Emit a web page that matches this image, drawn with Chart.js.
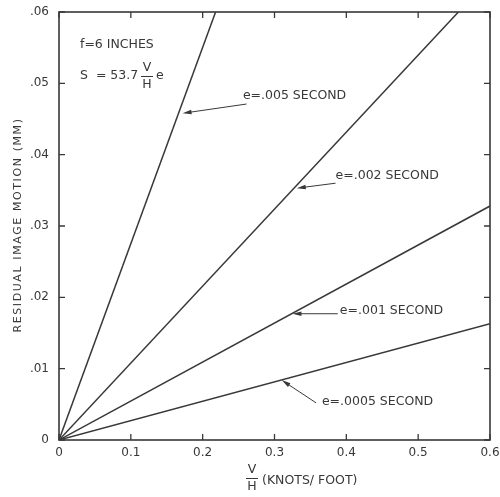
<!DOCTYPE html>
<html>
<head>
    <title>Residual Image Motion</title>
    <script src="https://cdn.jsdelivr.net/npm/chart.js"></script>
    <style>
        body {
            margin: 0;
            padding: 0;
            background: #fff;
        }
        #chart {
            display: block;
        }
    </style>
</head>
<body>
    <canvas id="chart" width="500" height="497"></canvas>

    <script>
        // Data: each line runs from the origin to its end point
        const seriesNames = ['e=.005 SECOND', 'e=.002 SECOND', 'e=.001 SECOND', 'e=.0005 SECOND'];
        const startX = [0, 0, 0, 0];
        const startY = [0, 0, 0, 0];
        const endX = [0.218, 0.556, 0.6, 0.6];
        const endY = [0.06, 0.06, 0.0328, 0.0163];

        const xTicks = [0, 0.1, 0.2, 0.3, 0.4, 0.5, 0.6];
        const yTicks = [0, 0.01, 0.02, 0.03, 0.04, 0.05, 0.06];

        // Label arrows, in data units (tip sits on the line, tail near the text)
        const arrowTipX = [0.172, 0.331, 0.325, 0.31];
        const arrowTipY = [0.0458, 0.0353, 0.0177, 0.0084];
        const arrowTailX = [0.261, 0.385, 0.388, 0.358];
        const arrowTailY = [0.0471, 0.0360, 0.0177, 0.0052];
        const labelX = [0.256, 0.385, 0.391, 0.366];
        const labelY = [0.0483, 0.0370, 0.0181, 0.0054];

        const ink = '#383838';
        const fontFamily = '"DejaVu Sans", sans-serif';

        const datasets = seriesNames.map((name, i) => ({
            label: name,
            data: [{ x: startX[i], y: startY[i] }, { x: endX[i], y: endY[i] }],
            showLine: true,
            borderColor: ink,
            borderWidth: 1.5,
            pointRadius: 0,
            fill: false
        }));

        function arrow(ctx, x1, y1, x2, y2) {
            // line from tail (x1,y1) to tip (x2,y2) with a filled head
            const ang = Math.atan2(y2 - y1, x2 - x1);
            const len = 9, half = 2.2;
            ctx.beginPath();
            ctx.moveTo(x1, y1);
            ctx.lineTo(x2 - Math.cos(ang) * len * 0.7, y2 - Math.sin(ang) * len * 0.7);
            ctx.stroke();
            ctx.beginPath();
            ctx.moveTo(x2, y2);
            ctx.lineTo(x2 - Math.cos(ang) * len - Math.sin(ang) * half, y2 - Math.sin(ang) * len + Math.cos(ang) * half);
            ctx.lineTo(x2 - Math.cos(ang) * len + Math.sin(ang) * half, y2 - Math.sin(ang) * len - Math.cos(ang) * half);
            ctx.closePath();
            ctx.fill();
        }

        const decorations = {
            id: 'decorations',
            afterDraw(chart) {
                const ctx = chart.ctx;
                const area = chart.chartArea;
                const xs = chart.scales.x;
                const ys = chart.scales.y;
                ctx.save();
                ctx.strokeStyle = ink;
                ctx.fillStyle = ink;

                // frame
                ctx.lineWidth = 1.6;
                ctx.strokeRect(area.left, area.top, area.right - area.left, area.bottom - area.top);

                // inward tick marks on all four sides
                ctx.lineWidth = 1.3;
                const tl = 6;
                ctx.beginPath();
                xTicks.forEach(v => {
                    const px = xs.getPixelForValue(v);
                    ctx.moveTo(px, area.bottom);
                    ctx.lineTo(px, area.bottom - tl);
                    ctx.moveTo(px, area.top);
                    ctx.lineTo(px, area.top + tl);
                });
                yTicks.forEach(v => {
                    const py = ys.getPixelForValue(v);
                    ctx.moveTo(area.left, py);
                    ctx.lineTo(area.left + tl, py);
                    ctx.moveTo(area.right, py);
                    ctx.lineTo(area.right - tl, py);
                });
                ctx.stroke();

                // line labels with arrows
                ctx.lineWidth = 1;
                ctx.font = '12.5px ' + fontFamily;
                ctx.textBaseline = 'middle';
                ctx.textAlign = 'left';
                seriesNames.forEach((name, i) => {
                    arrow(ctx,
                        xs.getPixelForValue(arrowTailX[i]), ys.getPixelForValue(arrowTailY[i]),
                        xs.getPixelForValue(arrowTipX[i]), ys.getPixelForValue(arrowTipY[i]));
                    ctx.fillText(name, xs.getPixelForValue(labelX[i]), ys.getPixelForValue(labelY[i]));
                });

                // formula block
                ctx.fillText('f=6 INCHES', 80, 45);
                ctx.fillText('S  = 53.7', 80, 76);
                ctx.textAlign = 'center';
                ctx.fillText('V', 147, 68);
                ctx.fillText('H', 147, 85);
                ctx.beginPath();
                ctx.moveTo(141, 76.5);
                ctx.lineTo(153, 76.5);
                ctx.stroke();
                ctx.textAlign = 'left';
                ctx.fillText('e', 156, 76);

                // x axis title
                ctx.textAlign = 'center';
                ctx.fillText('V', 252, 470);
                ctx.fillText('H', 252, 487);
                ctx.beginPath();
                ctx.moveTo(246, 478.5);
                ctx.lineTo(258, 478.5);
                ctx.stroke();
                ctx.textAlign = 'left';
                ctx.fillText('(KNOTS/ FOOT)', 262, 481);

                // y axis title
                ctx.translate(18, 225);
                ctx.rotate(-Math.PI / 2);
                ctx.font = '11px ' + fontFamily;
                ctx.letterSpacing = '1.6px';
                ctx.textAlign = 'center';
                ctx.fillText('RESIDUAL IMAGE MOTION (MM)', 0, 0);
                ctx.restore();
            }
        };

        Chart.defaults.font.family = fontFamily;
        Chart.defaults.color = ink;

        new Chart(document.getElementById('chart'), {
            type: 'scatter',
            data: { datasets },
            options: {
                responsive: false,
                animation: false,
                devicePixelRatio: 1,
                layout: { padding: { left: 0, top: 12, right: 10, bottom: 0 } },
                plugins: {
                    legend: { display: false },
                    tooltip: { enabled: false }
                },
                scales: {
                    x: {
                        type: 'linear',
                        min: 0,
                        max: 0.6,
                        afterFit: s => {
                            s.height = 57;
                            s.paddingLeft = 0;
                            s.paddingRight = 0;
                        },
                        afterBuildTicks: s => { s.ticks = xTicks.map(v => ({ value: v })); },
                        grid: { display: false, drawTicks: false },
                        border: { display: false },
                        ticks: {
                            padding: 6,
                            font: { size: 12 },
                            callback: v => v === 0 ? '0' : v.toFixed(1)
                        }
                    },
                    y: {
                        type: 'linear',
                        min: 0,
                        max: 0.06,
                        afterFit: s => {
                            s.width = 59;
                            s.paddingTop = 0;
                            s.paddingBottom = 0;
                        },
                        afterBuildTicks: s => { s.ticks = yTicks.map(v => ({ value: v })); },
                        grid: { display: false, drawTicks: false },
                        border: { display: false },
                        ticks: {
                            padding: 10,
                            font: { size: 12 },
                            callback: v => v === 0 ? '0' : v.toFixed(2).replace(/^0/, '')
                        }
                    }
                }
            },
            plugins: [decorations]
        });
    </script>
</body>
</html>
